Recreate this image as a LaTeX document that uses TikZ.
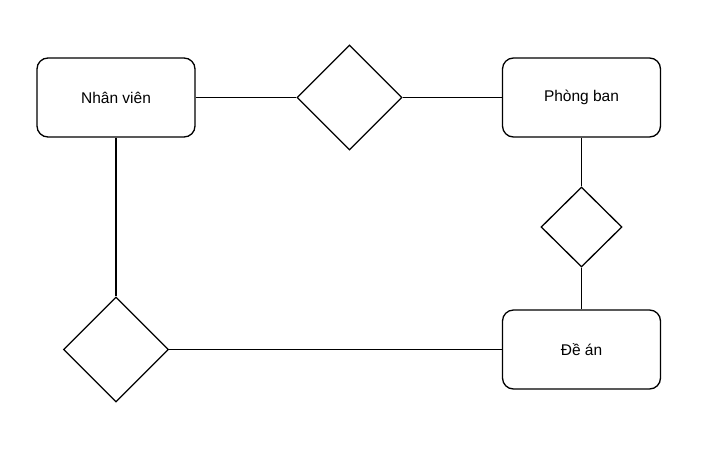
\documentclass[tikz,border=0pt]{standalone}
\usepackage{fontspec}
\setmainfont{Liberation Sans}
\usetikzlibrary{shapes.geometric}
\begin{document}
\begin{tikzpicture}[x=1pt,y=-1pt,
  line width=1.3pt,
  entity/.style={draw, rounded corners=11pt, minimum width=158pt, minimum height=79pt, inner sep=0pt, font=\fontsize{15.5}{18}\selectfont},
  rel/.style={draw, diamond, inner sep=0pt, aspect=1}]
\useasboundingbox (0,0) rectangle (719,464);
\node[entity] (nv) at (116,97.5) {Nhân viên};
\node[entity] (pb) at (581.5,97.5) {Phòng ban};
\node[entity] (da) at (581.5,349.5) {Đề án};
\node[rel, minimum width=105pt, minimum height=105pt] (r1) at (349.5,97.5) {};
\node[rel, minimum width=81pt, minimum height=80pt] (r2) at (581.5,227) {};
\node[rel, minimum width=105pt, minimum height=105pt] (r3) at (116,349.5) {};
\draw (nv.east) -- (r1.west);
\draw (r1.east) -- (pb.west);
\draw (pb.south) -- (r2.north);
\draw (r2.south) -- (da.north);
\draw (nv.south) -- (r3.north);
\draw (r3.east) -- (da.west);
\end{tikzpicture}
\end{document}
